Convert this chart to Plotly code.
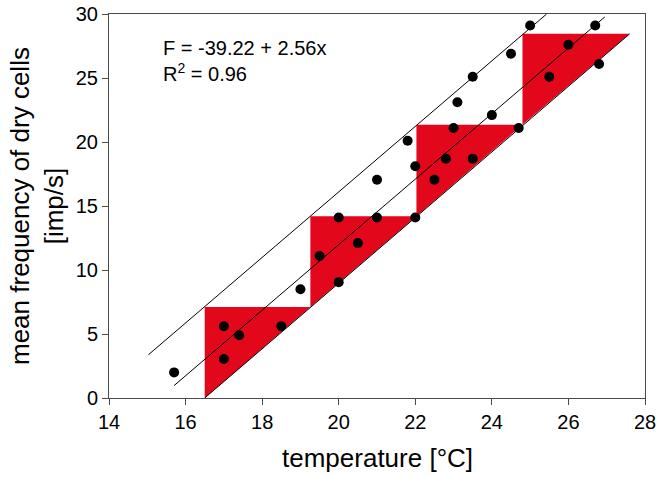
import plotly.graph_objects as go

# Data
temperature = [15.7, 17.0, 17.0, 17.4, 18.5, 19.0, 19.5, 20.0, 20.0, 20.5,
               21.0, 21.0, 21.8, 22.0, 22.0, 22.5, 22.8, 23.0, 23.1, 23.5,
               23.5, 24.0, 24.5, 24.7, 25.0, 25.5, 26.0, 26.7, 26.8]
frequency = [2.0, 5.6, 3.05, 4.9, 5.6, 8.5, 11.1, 9.05, 14.1, 12.1,
             14.1, 17.05, 20.1, 18.1, 14.1, 17.05, 18.7, 21.1, 23.1, 18.7,
             25.1, 22.1, 26.9, 21.1, 29.1, 25.1, 27.6, 29.1, 26.1]

# regression line F = -39.22 + 2.56x and parallel bounds (endpoints)
fit_x = [15.7, 26.95]
fit_y = [0.97, 29.77]
upper_x = [15.03, 25.43]
upper_y = [3.38, 30.0]
lower_x = [16.5, 27.6]
lower_y = [0.0, 28.45]

# red step triangles
step_x0 = [16.5, 19.26, 22.03, 24.8]
step_x1 = [19.26, 22.03, 24.8, 27.6]
step_bottom = [0.0, 7.1, 14.2, 21.35]
step_top = [7.1, 14.2, 21.35, 28.45]

xticks = [14, 16, 18, 20, 22, 24, 26, 28]
yticks = [0, 5, 10, 15, 20, 25, 30]

FONT = "Arial, Liberation Sans, sans-serif"
AX = "#4a4a4a"

tri_x, tri_y = [], []
for x0, x1, b, t in zip(step_x0, step_x1, step_bottom, step_top):
    tri_x += [x0, x0, x1, x0, None]
    tri_y += [b, t, t, b, None]

fig = go.Figure()
fig.add_trace(go.Scatter(x=tri_x, y=tri_y, mode="lines", fill="toself",
                         fillcolor="#E2071B", line=dict(width=0, color="#E2071B"),
                         hoverinfo="skip", showlegend=False))
for lx, ly in [(upper_x, upper_y), (fit_x, fit_y), (lower_x, lower_y)]:
    fig.add_trace(go.Scatter(x=lx, y=ly, mode="lines",
                             line=dict(color="black", width=1),
                             showlegend=False, hoverinfo="skip"))
fig.add_trace(go.Scatter(x=temperature, y=frequency, mode="markers",
                         marker=dict(color="black", size=10),
                         showlegend=False))

axis_common = dict(showgrid=False, zeroline=False, showline=True, mirror=True,
                   linecolor=AX, linewidth=1, ticks="outside", ticklen=6,
                   tickcolor=AX, tickwidth=1, automargin=False,
                   tickfont=dict(family=FONT, size=20, color="black"))

fig.update_xaxes(range=[14, 28], tickvals=xticks, ticktext=[str(v) for v in xticks],
                 **axis_common)
fig.update_yaxes(range=[0, 30], tickvals=yticks, ticktext=[str(v) for v in yticks],
                 **axis_common)

fig.update_layout(
    width=662, height=477,
    margin=dict(l=109, r=17, t=14, b=79, autoexpand=False),
    plot_bgcolor="white", paper_bgcolor="white",
    font=dict(family=FONT, color="black"),
    annotations=[
        dict(text="F = -39.22 + 2.56x", x=15.36, y=27.35, xref="x", yref="y",
             xanchor="left", yanchor="middle", showarrow=False,
             font=dict(size=20, family=FONT)),
        dict(text="R<sup>2</sup> = 0.96", x=15.36, y=25.45, xref="x", yref="y",
             xanchor="left", yanchor="middle", showarrow=False,
             font=dict(size=20, family=FONT)),
        dict(text="temperature [°C]", x=0.5, y=-0.155, xref="paper", yref="paper",
             xanchor="center", yanchor="middle", showarrow=False,
             font=dict(size=26, family=FONT)),
        dict(text="mean frequency of dry cells<br>[imp/s]", x=-0.1343, y=0.5,
             xref="paper", yref="paper", xanchor="center", yanchor="middle",
             textangle=-90, showarrow=False,
             font=dict(size=26, family=FONT)),
    ],
)

fig.write_html("out.html",
               config={"displayModeBar": False},
               post_script="document.body.style.margin='0';document.body.style.overflow='hidden';")
